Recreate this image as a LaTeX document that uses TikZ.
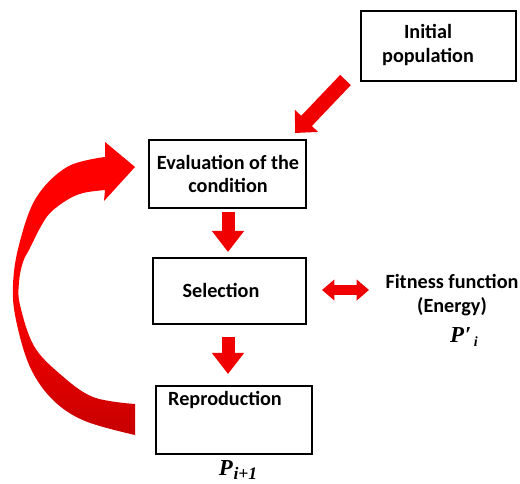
\documentclass[tikz,border=0pt]{standalone}
\usepackage{fontspec}
\setmainfont{Carlito}
\newfontfamily\serifbi{Liberation Serif}
\usetikzlibrary{arrows.meta}
\definecolor{arrred}{RGB}{240,0,0}
\definecolor{darkred}{RGB}{200,0,0}
\newcommand{\pprimetext}{P\kern0.5pt′\kern1.5pt\raisebox{-0.45ex}{\footnotesize i}}
\newcommand{\pnexttext}{P\kern0.5pt\raisebox{-0.45ex}{\fontsize{10}{12}\selectfont i+1}}
\begin{document}
\begin{tikzpicture}[x=0.02cm,y=-0.02cm,
  box/.style={draw=black,line width=1.1pt,fill=white,anchor=north west,inner sep=0pt},
  lbl/.style={font=\fontsize{11.5}{13.4}\selectfont\bfseries,align=center,inner sep=0pt},
  blockarrow/.style={draw=arrred,line width=7.4pt,-{Triangle[width=17.6pt,length=12pt]},arrred},
  diagarrow/.style={draw=arrred,line width=8.4pt,-{Triangle[width=17.6pt,length=9.5pt]},arrred},
  dblarrow/.style={draw=arrred,line width=5.7pt,{Triangle[width=11.5pt,length=7pt]}-{Triangle[width=11.5pt,length=7pt]},arrred},
  mathlbl/.style={inner sep=0pt,font=\serifbi\fontsize{13}{15}\selectfont\bfseries\itshape}]
\useasboundingbox (0,0) rectangle (520,483);
% boxes
\node[box,minimum width={155*0.02cm},minimum height={70*0.02cm}] (init) at (360,10) {};
\node[box,minimum width={157*0.02cm},minimum height={68*0.02cm}] (eval) at (148,139) {};
\node[box,minimum width={153*0.02cm},minimum height={66*0.02cm}] (sel) at (152,257) {};
\node[box,minimum width={156*0.02cm},minimum height={68*0.02cm}] (repro) at (155,385) {};
% box texts
\node[lbl] (initt) at (428,45) {Initial\\population};
\node[lbl] (evalt) at (228,174) {Evaluation of the\\condition};
\node[lbl] (selt) at (221,290) {Selection};
\node[lbl] (reprot) at (225,400) {Reproduction};
\node[lbl] (fit) at (452,295) {Fitness function\\(Energy)};
\node[mathlbl] (pprime) at (464,337) {\pprimetext};
\node[mathlbl] (pnext) at (238,470) {\pnexttext};
% arrow coordinates
\coordinate (d1s) at (228,212);
\coordinate (d1e) at (228,252);
\coordinate (d2s) at (228,337);
\coordinate (d2e) at (228,374);
\coordinate (ias) at (345.5,80);
\coordinate (iae) at (295,133);
\coordinate (fs) at (322,290);
\coordinate (fe) at (369,290);
\draw[blockarrow] (d1s) -- (d1e);
\draw[blockarrow] (d2s) -- (d2e);
\draw[diagarrow] (ias) -- (iae);
\draw[dblarrow] (fs) -- (fe);
% curved feedback arrow
\shade[top color=red,bottom color=darkred,middle color=red,draw=none]
  (135,435) -- (135,404)
  -- plot[smooth,tension=0.6] coordinates {(135,404) (93,397) (60,374) (34,346) (20,305) (19,282) (23,262) (30,248) (40,228) (50,213) (67,200) (83,193) (105,190)}
  -- (104,201) -- (135,167) -- (105,142)
  -- plot[smooth,tension=0.6] coordinates {(105,157) (67,167) (36,198) (19,245) (13,285) (16,320) (30,367) (53,400) (85,421) (135,435)}
  -- cycle;
\end{tikzpicture}
\end{document}
